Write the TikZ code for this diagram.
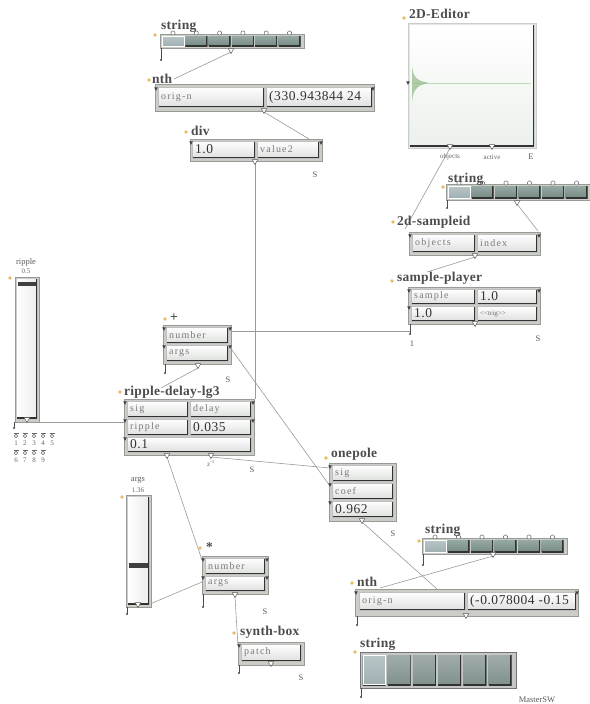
\documentclass[tikz,border=0pt]{standalone}
\usepackage{fontspec}
\setmainfont{Liberation Serif}
\newfontfamily\lblf[LetterSpace=2]{Liberation Serif}
\newfontfamily\fldf[LetterSpace=12]{Liberation Serif}
\newfontfamily\valf[LetterSpace=4]{Liberation Serif}
\definecolor{frmc}{RGB}{203,206,199}
\definecolor{frmd}{RGB}{150,155,150}
\definecolor{fldb}{RGB}{222,224,222}
\definecolor{cellt}{RGB}{150,168,163}
\definecolor{cellb}{RGB}{118,138,132}
\definecolor{celLt}{RGB}{185,198,200}
\definecolor{celLb}{RGB}{160,175,178}
\definecolor{bigt}{RGB}{160,172,172}
\definecolor{bigb}{RGB}{128,145,140}
\definecolor{dotc}{RGB}{236,186,96}
\definecolor{wirec}{RGB}{150,156,150}
\definecolor{wave}{RGB}{150,190,140}
\definecolor{edb}{RGB}{236,241,236}
\tikzset{
 frm/.style={draw=frmd, fill=frmc, line width=0.5pt, inner sep=0pt, outer sep=0pt, anchor=north west},
 shadowbr/.style={path picture={\draw[black!80, line width=2.4pt] (path picture bounding box.south west) -- (path picture bounding box.south east) -- (path picture bounding box.north east);}},
 fld/.style={draw=gray!50, line width=0.4pt, top color=white, bottom color=fldb, inner sep=0pt, outer sep=0pt, anchor=north west, shadowbr},
 cel/.style={top color=cellt, bottom color=cellb, inner sep=0pt, outer sep=0pt, anchor=north west, shadowbr},
 celL/.style={top color=celLt, bottom color=celLb, draw=white, line width=0.7pt, inner sep=0pt, outer sep=0pt, anchor=north west},
 bigcel/.style={top color=bigt, bottom color=bigb, inner sep=0pt, outer sep=0pt, anchor=north west, shadowbr},
 lbl/.style={font=\lblf\bfseries\fontsize{13.5}{15}\selectfont, text=black!70, anchor=base west, inner sep=0pt},
 ftx/.style={font=\fldf\fontsize{10}{11}\selectfont, text=black!52, inner sep=0pt},
 vtx/.style={font=\valf\fontsize{13.5}{14}\selectfont, text=black!80, inner sep=0pt},
 sml/.style={font=\fontsize{8.5}{9}\selectfont, text=black!65, inner sep=0pt},
 tiny/.style={font=\fontsize{7}{8}\selectfont, text=black!60, inner sep=0pt},
 wire/.style={draw=wirec, line width=0.6pt},
}
\newcommand\Frame[5]{\node[frm, minimum width={#4-#2}, minimum height={#5-#3}] (#1) at (#2,#3) {};}
\newcommand\Field[7]{\node[fld, minimum width={#4-#2}, minimum height={#5-#3}] (#1) at (#2,#3) {};
  \node[#7, anchor=west] (#1t) at ([xshift=3pt]#1.west) {#6};}
\newcommand\Dot[2]{\fill[dotc] (#1,#2) circle (1.8);}
\newcommand\Inl[2]{\fill[black!75] ({#1-1.8},{#2-1.6}) -- ({#1+1.8},{#2-1.6}) -- (#1,{#2+1.8}) -- cycle;}
\newcommand\Outl[2]{\draw[black!65, fill=white, line width=0.5pt] ({#1-2.8},{#2-2.4}) -- ({#1+2.8},{#2-2.4}) -- (#1,{#2+2.6}) -- cycle;}
\newcommand\Stub[3]{\draw[black!70, line width=0.6pt] (#1,#2) -- (#1,#3); \fill[black!70] (#1,#3) circle (1.1);}
\newcommand\Strip[8]{%
 \Frame{#1}{#2}{#3}{#4}{#5}
 \foreach \i in {0,...,5}{\node[cel, minimum width=#8, minimum height={#5-#3-4}] (#1c\i) at ({#6+\i*#7},{#3+2}) {};}
 \node[celL, minimum width=#8, minimum height={#5-#3-4}] (#1cL) at (#6,{#3+2}) {};
 \foreach \i in {0,...,5}{\draw[black!60, fill=white, line width=0.5pt] ({#6+\i*#7+11},{#3-1}) circle (2.1);}
}
\begin{document}
\begin{tikzpicture}[x=1pt,y=-1pt]
\useasboundingbox (0,0) rectangle (589,704);
% ---------- connector end points ----------
\coordinate (sAout) at (231,52);   \coordinate (nthAin) at (174,79);
\coordinate (nthAout) at (264,112); \coordinate (divin) at (309,139);
\coordinate (divout) at (255,163); \coordinate (rddel) at (255,399);
\coordinate (edobj) at (450,148);  \coordinate (sidin) at (405,229);
\coordinate (sBout) at (517,204);  \coordinate (sididx) at (538,231);
\coordinate (sidout) at (475,257); \coordinate (spin) at (427,272);
\coordinate (spstub) at (410,331); \coordinate (plusnum) at (231,331);
\coordinate (plusout) at (198,368); \coordinate (rdin) at (161,388);
\coordinate (plusargs) at (232,350); \coordinate (opcoef) at (330,486);
\coordinate (ripout) at (28,422);  \coordinate (rdrip) at (125,422);
\coordinate (rdoutB) at (211,457); \coordinate (opsig) at (330,468);
\coordinate (rdoutA) at (167,457); \coordinate (mulnum) at (202,560);
\coordinate (argsout) at (150,604); \coordinate (mulargs) at (202,582);
\coordinate (mulout) at (235,597); \coordinate (synin) at (238,646);
\coordinate (opout) at (362,522);  \coordinate (nthBin) at (437,589);
\coordinate (sCout) at (493,556);  \coordinate (nthBl) at (380,588);
% ---------- connectors ----------
\draw[wire] (sAout) -- (nthAin);
\draw[wire] (nthAout) -- (divin);
\draw[wire] (divout) -- (rddel);
\draw[wire] (edobj) -- (sidin);
\draw[wire] (sBout) -- (sididx);
\draw[wire] (sidout) -- (spin);
\draw[wire] (spstub) -- (plusnum);
\draw[wire] (plusout) -- (rdin);
\draw[wire] (plusargs) -- (opcoef);
\draw[wire] (ripout) -- (rdrip);
\draw[wire] (rdoutB) -- (opsig);
\draw[wire] (rdoutA) -- (mulnum);
\draw[wire] (argsout) -- (mulargs);
\draw[wire] (mulout) -- (synin);
\draw[wire] (opout) -- (nthBin);
\draw[wire] (sCout) -- (nthBl);
% ---------- top string ----------
\Strip{sA}{160}{34}{304}{48}{162}{23.3}{22}
\Outl{231}{51} \Stub{161}{48}{60} \Dot{155}{35}
\node[lbl] (sAl) at (161,29) {string};
% ---------- nth (top) ----------
\Frame{nthA}{155}{84}{374}{111}
\Field{nthAa}{158}{87}{264}{107}{orig-n}{ftx}
\Field{nthAb}{266}{87}{372}{107}{(330.943844 24}{vtx}
\Inl{156}{89} \Inl{373}{89} \Outl{264}{111} \Dot{149}{80}
\node[lbl] (nthAl) at (152,83) {nth};
% ---------- div ----------
\Frame{div}{190}{139}{322}{161}
\Field{diva}{192}{141}{255}{158}{1.0}{vtx}
\Field{divb}{257}{141}{319}{158}{value2}{ftx}
\Inl{191}{143} \Inl{321}{143} \Outl{255}{162} \Dot{186}{132}
\node[lbl] (divl) at (191,135) {div};
\node[sml] (divS) at (315,175) {S};
% ---------- 2D-Editor ----------
\node[frm, fill=gray!20, draw=gray!40, minimum width=128, minimum height=125] (ed) at (408,23) {};
\node[inner sep=0pt, outer sep=0pt, anchor=north west, top color=white, bottom color=edb, minimum width=124, minimum height=121, shadowbr] (edin) at (410,25) {};
\draw[wave!60, line width=0.7pt] (412,83) -- (531,83);
\fill[wave, opacity=0.75] (412,66) .. controls (413,76) and (416,81) .. (428,82.6) -- (428,83.4) .. controls (416,85) and (413,91) .. (412,102) -- cycle;
\Inl{408}{83} \Outl{450}{147} \Outl{492}{147} \Dot{404}{18}
\node[lbl] (edl) at (409,19) {2D-Editor};
\node[tiny] (edo) at (450,157) {objects};
\node[tiny] (eda) at (492,157) {active};
\node[sml] (ede) at (531,157) {E};
% ---------- string (right) ----------
\Strip{sB}{446}{184}{592}{200}{448}{23.5}{22}
\Outl{517}{203} \Stub{447}{200}{208} \Dot{443}{187}
\node[lbl] (sBl) at (448,182) {string};
% ---------- 2d-sampleid ----------
\Frame{sid}{409}{232}{540}{255}
\Field{sida}{412}{234}{475}{252}{objects}{ftx}
\Field{sidb}{477}{234}{537}{252}{index}{ftx}
\Inl{410}{236} \Inl{539}{236} \Outl{475}{256} \Dot{393}{222}
\node[lbl] (sidl) at (397,225) {2d-sampleid};
% ---------- sample-player ----------
\Frame{sp}{408}{287}{540}{324}
\Field{spa}{411}{289}{475}{304}{sample}{ftx}
\Field{spb}{477}{289}{537}{304}{1.0}{vtx}
\Field{spc}{411}{306}{475}{321}{1.0}{vtx}
\Field{spd}{477}{306}{537}{321}{<{}<trig>{}>}{tiny}
\Inl{409}{291} \Inl{539}{291} \Inl{409}{308} \Outl{475}{324} \Stub{410}{324}{334} \Dot{392}{281}
\node[lbl] (spl) at (397,281) {sample-player};
\node[sml] (sp1) at (412,344) {1};
\node[sml] (spS) at (538,339) {S};
% ---------- + ----------
\Frame{plus}{163}{325}{231}{364}
\Field{plusa}{166}{327}{228}{343}{number}{ftx}
\Field{plusb}{166}{345}{228}{361}{args}{ftx}
\Inl{164}{329} \Inl{164}{347} \Inl{230}{329} \Inl{230}{347}
\Outl{198}{366} \Stub{165}{364}{373} \Dot{165}{319}
\node[lbl] (plusl) at (170,321) {+};
\node[sml] (plusS) at (228,380) {S};
% ---------- ripple-delay-lg3 ----------
\Frame{rd}{124}{399}{254}{455}
\Field{rda}{127}{401}{188}{417}{sig}{ftx}
\Field{rdb}{190}{401}{251}{417}{delay}{ftx}
\Field{rdc}{127}{419}{188}{435}{ripple}{ftx}
\Field{rdd}{190}{419}{251}{435}{0.035}{vtx}
\Field{rde}{127}{437}{251}{452}{0.1}{vtx}
\Inl{125}{403} \Inl{125}{421} \Inl{125}{439} \Inl{253}{403} \Inl{253}{421}
\Outl{167}{456} \Outl{211}{456} \Dot{120}{392}
\node[lbl] (rdl) at (124,395) {ripple-delay-lg3};
\node[tiny] (rdz) at (211,463) {z\textsuperscript{-1}};
\node[sml] (rdS) at (252,470) {S};
% ---------- ripple slider ----------
\node[sml] (ripl) at (26,262) {ripple};
\node[tiny] (ripv) at (26,271) {0.5};
\node[frm, minimum width=24, minimum height=145] (rip) at (15,277) {};
\node[inner sep=0pt, outer sep=0pt, anchor=north west, left color=white, right color=gray!15, minimum width=20, minimum height=139, shadowbr] (ripin) at (17,279) {};
\fill[black!75] (18,282) rectangle (36,285.5);
\Outl{27}{420} \Stub{14}{422}{428} \Dot{10}{278}
\foreach \k/\x in {1/16,2/25,3/34,4/43,5/52}{
  \draw[black!60, line width=0.5pt] (\x-2.5,433.5) -- (\x+2.5,433.5);
  \draw[black!60, fill=white, line width=0.5pt] (\x,436) circle (1.8);
  \node[tiny] (rn\k) at (\x,443) {\k};}
\foreach \k/\x in {6/16,7/25,8/34,9/43}{
  \draw[black!60, line width=0.5pt] (\x-2.5,450.5) -- (\x+2.5,450.5);
  \draw[black!60, fill=white, line width=0.5pt] (\x,453) circle (1.8);
  \node[tiny] (rn\k) at (\x,460) {\k};}
% ---------- onepole ----------
\Frame{op}{329}{463}{396}{521}
\Field{opa}{332}{465}{393}{481}{sig}{ftx}
\Field{opb}{332}{483}{393}{499}{coef}{ftx}
\Field{opc}{332}{501}{393}{517}{0.962}{vtx}
\Inl{330}{467} \Inl{330}{485} \Inl{330}{503} \Outl{362}{521} \Dot{326}{458}
\node[lbl] (opl) at (331,457) {onepole};
\node[sml] (opS) at (393,534) {S};
% ---------- string (lower right) ----------
\Strip{sC}{422}{538}{567}{554}{424}{23.5}{22}
\Outl{493}{555} \Stub{423}{554}{565} \Dot{419}{541}
\node[lbl] (sCl) at (425,533) {string};
% ---------- nth (lower) ----------
\Frame{nthB}{355}{589}{578}{616}
\Field{nthBa}{359}{592}{465}{610}{orig-n}{ftx}
\Field{nthBb}{467}{592}{576}{610}{(-0.078004 -0.15}{vtx}
\Inl{356}{593} \Inl{577}{593} \Outl{466}{616} \Stub{357}{616}{625} \Dot{352}{583}
\node[lbl] (nthBl2) at (357,586) {nth};
% ---------- args slider ----------
\node[sml] (argl) at (138,480) {args};
\node[tiny] (argv) at (138,490) {1.36};
\node[frm, minimum width=25, minimum height=112] (arg) at (126,495) {};
\node[inner sep=0pt, outer sep=0pt, anchor=north west, left color=white, right color=gray!15, minimum width=21, minimum height=107, shadowbr] (argin) at (128,497) {};
\fill[black!75] (129,563) rectangle (148,567.5);
\Outl{138}{605} \Stub{127}{607}{614} \Dot{122}{497}
% ---------- * ----------
\Frame{mul}{202}{556}{268}{594}
\Field{mula}{205}{558}{265}{574}{number}{ftx}
\Field{mulb}{205}{576}{265}{591}{args}{ftx}
\Inl{203}{560} \Inl{203}{578} \Inl{267}{560} \Inl{267}{578}
\Outl{235}{595} \Stub{203}{594}{607} \Dot{200}{548}
\node[lbl] (mull) at (206,551) {*};
\node[sml] (mulS) at (265,612) {S};
% ---------- synth-box ----------
\Frame{syn}{238}{642}{304}{665}
\Field{syna}{241}{644}{301}{661}{patch}{ftx}
\Inl{239}{646} \Outl{271}{664} \Stub{239}{665}{673} \Dot{234}{633}
\node[lbl] (synl) at (240,635) {synth-box};
\node[sml] (synS) at (301,678) {S};
% ---------- big string ----------
\node[frm, fill=gray!45, draw=black!55, line width=0.8pt, minimum width=156, minimum height=36] (sD) at (360,652) {};
\foreach \i in {0,...,5}{\node[bigcel, minimum width=23, minimum height=30] (sDc\i) at ({362.5+\i*25.2},655) {};}
\node[celL, minimum width=22, minimum height=29] (sDcL) at (363,655.5) {};
\Stub{361}{688}{697} \Dot{355}{652}
\node[lbl] (sDl) at (360,647) {string};
\node[sml] (msw) at (537,700) {MasterSW};
\end{tikzpicture}
\end{document}
